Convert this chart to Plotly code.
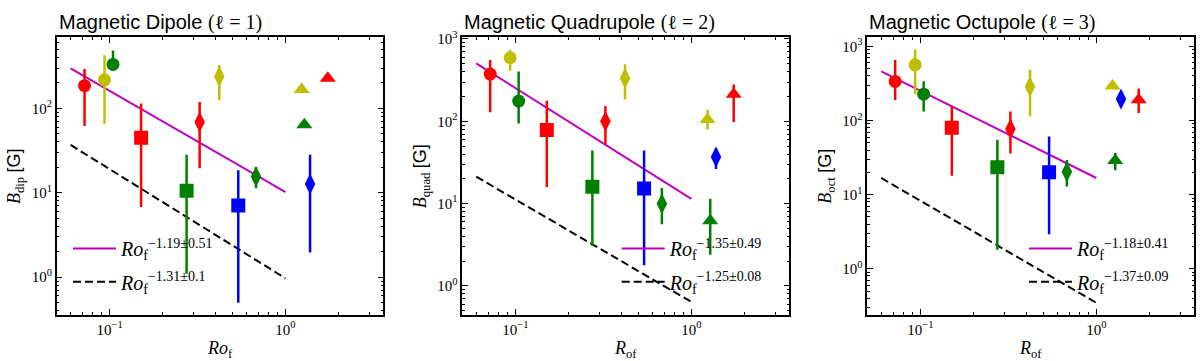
import numpy as np
import plotly.graph_objects as go

# Rossby number of each star (same for all three panels)
ro_f = [0.072, 0.0935, 0.1045, 0.151, 0.274, 0.539, 0.325, 0.42, 0.68, 1.38, 1.235, 1.28, 1.74]
point_colors = ['#ff0000', '#bfbf00', '#008000', '#ff0000', '#008000', '#0000ff', '#ff0000',
                '#bfbf00', '#008000', '#0000ff', '#bfbf00', '#008000', '#ff0000']
point_symbols = ['circle'] * 3 + ['square'] * 3 + ['diamond-tall'] * 4 + ['triangle-up'] * 3

# field strengths [G] with upper / lower ends of the error bars
b_dip = [186, 218, 332, 44.9, 10.6, 7.1, 68.9, 239, 15.6, 12.7, 168, 64, 228]
b_dip_hi = [293, 426, 487, 114, 28.3, 18.5, 119, 326, 20.2, 28.3, 168, 64, 228]
b_dip_lo = [62, 66, 290, 6.8, 1.1, 0.50, 19.5, 125, 11.3, 1.96, 168, 64, 228]

b_quad = [375, 591, 176, 78.2, 16.0, 15.2, 100, 333, 9.97, 36.7, 105, 6.2, 213]
b_quad_hi = [555, 741, 403, 177, 44, 44, 153, 492, 15.5, 47.3, 138, 11.4, 280]
b_quad_lo = [129, 410, 94, 15.9, 3.08, 1.78, 52.8, 184, 5.6, 26.3, 79.6, 2.38, 98]

b_oct = [337, 565, 227, 80, 23.5, 20, 76.9, 287, 20.4, 195, 292, 29, 191]
b_oct_hi = [658, 918, 340, 159, 55, 60.8, 133, 486, 29.4, 244, 292, 36.6, 270]
b_oct_lo = [189, 227, 133, 18.0, 1.81, 2.92, 36, 114, 12.9, 151, 292, 21.4, 127]

# power-law fits (end points)
fit_x = [0.06, 1.0]
dip_fit_obs = [298, 10.2]
dip_fit_sim = [36.9, 0.97]
quad_fit_obs = [506, 11.4]
quad_fit_sim = [21.2, 0.637]
oct_fit_obs = [461, 16.8]
oct_fit_sim = [16.8, 0.347]

dip_labels = ['\u22121.19\u00b10.51', '\u22121.31\u00b10.1']
quad_labels = ['\u22121.35\u00b10.49', '\u22121.25\u00b10.08']
oct_labels = ['\u22121.18\u00b10.41', '\u22121.37\u00b10.09']

titles = ['Magnetic Dipole', 'Magnetic Quadrupole', 'Magnetic Octupole']
ells = ['1', '2', '3']
ylabels = ['dip', 'quad', 'oct']
xlabels = ['<i>Ro</i><sub>f</sub>', '<i>R</i><sub>of</sub>', '<i>R</i><sub>of</sub>']

W, H = 1200, 361
SERIF = 'Liberation Serif'
SANS = 'Liberation Sans'

x_px = [(56.7, 383.3), (462.3, 789.3), (867.3, 1194.3)]
y_top, y_bot = 30, 314
y_ranges = [[-0.448, 2.842], [-0.355, 3.02], [-0.624, 3.123]]
y_decades = [[1, 10, 100], [1, 10, 100, 1000], [1, 10, 100, 1000]]
legend_x = [74, 622.7, 1030]
legend_tops = [226, 260]

panels = [
    (b_dip, b_dip_hi, b_dip_lo, dip_fit_obs, dip_fit_sim, dip_labels),
    (b_quad, b_quad_hi, b_quad_lo, quad_fit_obs, quad_fit_sim, quad_labels),
    (b_oct, b_oct_hi, b_oct_lo, oct_fit_obs, oct_fit_sim, oct_labels),
]

fig = go.Figure()
minor_x = [m * 10.0 ** e for e in range(-2, 1) for m in range(2, 10)]
minor_y = [m * 10.0 ** e for e in range(-1, 4) for m in range(2, 10)]

for i, (b, hi, lo, fobs, fsim, labs) in enumerate(panels):
    n = '' if i == 0 else str(i + 1)
    xa, ya = 'x' + n, 'y' + n
    legs = ['legend' + ('' if 2 * i == 0 else str(2 * i + 1)), 'legend' + str(2 * i + 2)]

    fig.add_trace(go.Scatter(
        x=fit_x, y=fobs, mode='lines', xaxis=xa, yaxis=ya,
        line=dict(color='#bf00bf', width=2), legend=legs[0],
        name='<i>Ro</i><sub>f</sub><sup>' + labs[0] + '</sup>'))
    fig.add_trace(go.Scatter(
        x=fit_x, y=fsim, mode='lines', xaxis=xa, yaxis=ya,
        line=dict(color='black', width=2, dash='8px,4px'), legend=legs[1],
        name='<i>Ro</i><sub>f</sub><sup>' + labs[1] + '</sup>'))

    for k in range(len(ro_f)):
        sym = point_symbols[k]
        fig.add_trace(go.Scatter(
            x=[ro_f[k]], y=[b[k]], mode='markers', xaxis=xa, yaxis=ya, showlegend=False,
            marker=dict(color=point_colors[k], symbol=sym,
                        size={'square': 14, 'triangle-up': 14, 'diamond-tall': 15}.get(sym, 13),
                        line=dict(width=0)),
            error_y=dict(type='data', symmetric=False, array=[hi[k] - b[k]],
                         arrayminus=[b[k] - lo[k]], color=point_colors[k],
                         thickness=2.5, width=0)))

    x0, x1 = x_px[i]
    axis_common = dict(
        type='log', showline=True, linecolor='black', linewidth=1.5, mirror='allticks',
        ticks='inside', ticklen=6, tickwidth=1, tickcolor='black', showgrid=False,
        zeroline=False, tickfont=dict(family=SERIF, size=15, color='black'),
        minor=dict(ticks='inside', ticklen=3, tickwidth=1, tickcolor='black',
                   tickmode='array', showgrid=False),
    )
    xaxis = dict(axis_common)
    xaxis.update(
        domain=[x0 / W, x1 / W], anchor=ya, range=[np.log10(0.05), np.log10(3.6)],
        tickmode='array', tickvals=[0.1, 1], ticktext=['10<sup>\u22121</sup>', '10<sup>0</sup>'],
        title=dict(text=xlabels[i], font=dict(family=SERIF, size=18, color='black'), standoff=6),
    )
    xaxis['minor'] = dict(axis_common['minor'], tickvals=minor_x)
    yaxis = dict(axis_common)
    yaxis.update(
        domain=[1 - y_bot / H, 1 - y_top / H], anchor=xa, range=y_ranges[i],
        tickmode='array', tickvals=y_decades[i],
        ticktext=['10<sup>%d</sup>' % int(np.log10(v)) for v in y_decades[i]],
        title=dict(text='<i>B</i><sub>' + ylabels[i] + '</sub> <span style="font-family:' + SANS
                   + '">[G]</span>', font=dict(family=SERIF, size=18, color='black'), standoff=6),
    )
    yaxis['minor'] = dict(axis_common['minor'], tickvals=minor_y)
    fig.layout['xaxis' + n] = xaxis
    fig.layout['yaxis' + n] = yaxis

    for leg, top in zip(legs, legend_tops):
        fig.layout[leg] = dict(
            x=(legend_x[i] - 6) / W, y=1 - top / H, xanchor='left', yanchor='top',
            bgcolor='rgba(0,0,0,0)', borderwidth=0, itemwidth=43,
            font=dict(family=SERIF, size=20, color='black'))

    fig.add_annotation(
        x=x0 / W, y=1 - 15 / H, xref='paper', yref='paper', xanchor='left', yanchor='middle',
        showarrow=False, font=dict(family=SANS, size=20, color='black'),
        text=titles[i] + ' <span style="font-family:' + SERIF + '">(\u2113 = ' + ells[i] + ')</span>')

fig.update_layout(
    width=W, height=H, margin=dict(l=0, r=0, t=0, b=0),
    plot_bgcolor='white', paper_bgcolor='white',
)

fig.write_html("out.html", config={'displayModeBar': False},
               post_script="document.body.style.margin='0';")
